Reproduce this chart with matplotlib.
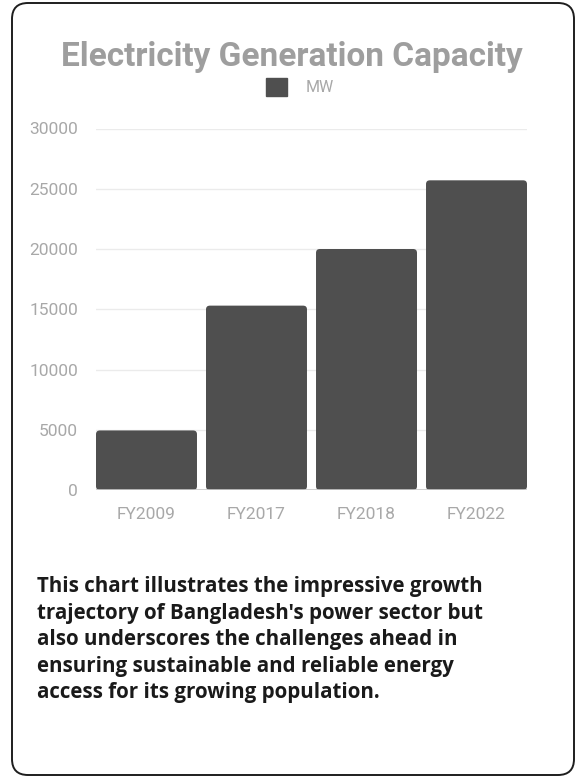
import numpy as np
import matplotlib
matplotlib.use('Agg')
from matplotlib import pyplot as plt
from matplotlib.patches import FancyBboxPatch, Patch
from matplotlib.transforms import IdentityTransform

years = ['FY2009', 'FY2017', 'FY2018', 'FY2022']
capacity_mw = [4942, 15300, 20000, 25700]
yticks = [0, 5000, 10000, 15000, 20000, 25000, 30000]

title = 'Electricity Generation Capacity'
caption = ("This chart illustrates the impressive growth\n"
           "trajectory of Bangladesh's power sector but\n"
           "also underscores the challenges ahead in\n"
           "ensuring sustainable and reliable energy\n"
           "access for its growing population.")

bar_col = '#4f4f4f'
grey_txt = '#a8a8a8'

W, H = 577, 778
fig = plt.figure(figsize=(W/100, H/100), dpi=100)
fig.patch.set_facecolor('white')

# card outline (pixel coords)
card = FancyBboxPatch((12, 3), 562, 772, boxstyle='round,pad=0,rounding_size=16',
                      transform=IdentityTransform(), fc='none', ec='#1e1e1e', lw=1.4)
fig.patches.append(card)

ax = fig.add_axes([96/W, (H-490)/H, (527-96)/W, (490-128.5)/H])
ax.set_facecolor('none')
x = np.arange(len(years))
bw = 0.918
bars = ax.bar(x, capacity_mw, width=bw, color=bar_col)
# swap square bars for slightly rounded ones
for b in bars:
    b.set_visible(False)
    ax.add_patch(FancyBboxPatch((b.get_x(), b.get_y()), b.get_width(), b.get_height(),
                                boxstyle='round,pad=0,rounding_size=0.035',
                                mutation_aspect=9000, fc=bar_col, ec='none', zorder=3))
ax.set_xlim(-bw/2, len(years) - 1 + bw/2)
ax.set_ylim(0, 30000)
ax.set_yticks(yticks)
ax.set_yticklabels([str(v) for v in yticks])
ax.set_xticks(x)
ax.set_xticklabels(years)
ax.grid(axis='y', color='#ebebeb', lw=1)
ax.set_axisbelow(True)
for s in ax.spines.values():
    s.set_visible(False)
ax.axhline(0, color='#c8c8c8', lw=1.2, zorder=4)
ax.tick_params(length=0, labelsize=12.5, labelcolor=grey_txt)
ax.tick_params(axis='y', pad=13)
ax.tick_params(axis='x', pad=12)
for lab in ax.get_xticklabels() + ax.get_yticklabels():
    lab.set_fontfamily('Roboto')

fig.text(292/W, 1 - 57/H, title, ha='center', va='center', fontsize=24,
         fontweight='bold', color='#9e9e9e', family='Roboto')
fig.legend(handles=[Patch(color=bar_col, label='MW')], loc='center',
           bbox_to_anchor=(300/W, 1 - 87/H), frameon=False,
           prop={'family': 'Roboto', 'size': 11.5}, labelcolor=grey_txt,
           handlelength=1.3, handleheight=1.3, handletextpad=1.2)

fig.text(37/W, 1 - 576/H, caption, ha='left', va='top', fontsize=14.8,
         fontweight='bold', color='#1a1a1a', family='Open Sans', linespacing=1.345)

fig.savefig('out.png', dpi=100)
